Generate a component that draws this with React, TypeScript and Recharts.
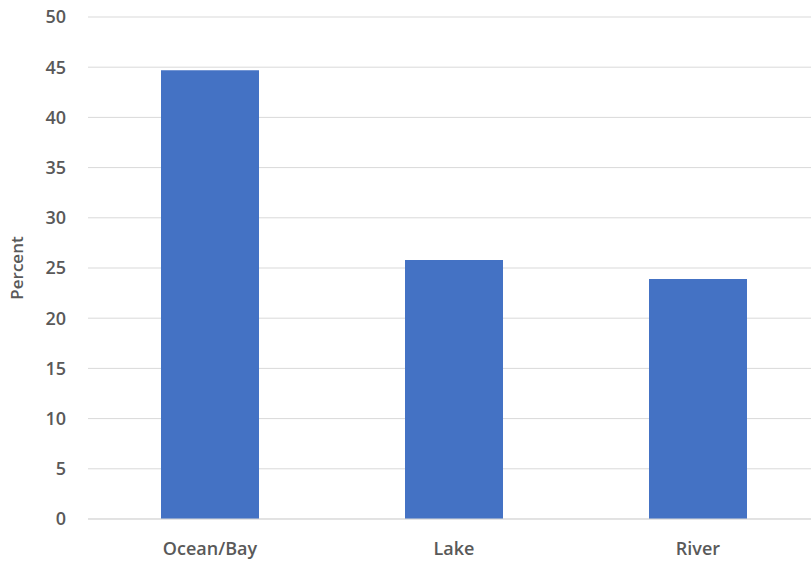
import React from 'react';
import { BarChart, Bar, XAxis, YAxis, CartesianGrid } from 'recharts';

const categories = ['Ocean/Bay', 'Lake', 'River'];
const percents = [44.7, 25.8, 23.9];
const yTicks = [0, 5, 10, 15, 20, 25, 30, 35, 40, 45, 50];

const chartData = categories.map((name, i) => ({ name, percent: percents[i] }));

const font = "'Open Sans', 'Liberation Sans', sans-serif";

const App: React.FC = () => {
  return (
    <div style={{ position: 'absolute', left: 0, top: 0, width: 811, height: 567, background: '#fff', overflow: 'hidden' }}>
      <BarChart
        width={820}
        height={567}
        data={chartData}
        margin={{ top: 17, right: 0, left: 0, bottom: 18 }}
      >
        <CartesianGrid vertical={false} stroke="#d9d9d9" strokeWidth={1} />
        <XAxis
          dataKey="name"
          axisLine={{ stroke: '#d9d9d9' }}
          tickLine={false}
          tickMargin={17}
          height={30}
          tick={{ fill: '#595959', fontSize: 18, fontWeight: 600, fontFamily: font }}
        />
        <YAxis
          domain={[0, 50]}
          ticks={yTicks}
          width={88}
          axisLine={false}
          tickLine={false}
          tickMargin={16}
          tick={{ fill: '#595959', fontSize: 18, fontWeight: 600, fontFamily: font }}
          label={{
            value: 'Percent',
            angle: -90,
            position: 'insideLeft',
            offset: 17,
            style: { textAnchor: 'middle', fill: '#595959', fontSize: 17, fontWeight: 600, fontFamily: font },
          }}
        />
        <Bar dataKey="percent" fill="#4472c4" barSize={98} isAnimationActive={false} />
      </BarChart>
    </div>
  );
};

export default App;
